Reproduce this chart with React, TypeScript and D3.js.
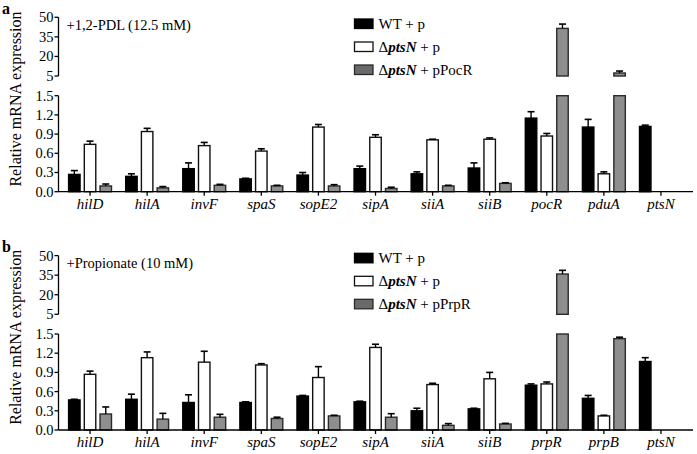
import * as d3 from "d3";

// Panel a: +1,2-PDL
const genesA = ["hilD", "hilA", "invF", "spaS", "sopE2", "sipA", "siiA", "siiB", "pocR", "pduA", "ptsN"];
const wtA = [0.27, 0.24, 0.36, 0.2, 0.26, 0.36, 0.28, 0.37, 1.15, 1.01, 1.02];
const wtErrA = [0.06, 0.04, 0.09, 0.01, 0.04, 0.04, 0.03, 0.08, 0.1, 0.12, 0.02];
const mutA = [0.74, 0.94, 0.72, 0.635, 1.01, 0.85, 0.81, 0.82, 0.87, 0.28, 0];
const mutErrA = [0.05, 0.05, 0.05, 0.035, 0.04, 0.04, 0.01, 0.02, 0.04, 0.03, 0];
const compA = [0.09, 0.06, 0.1, 0.09, 0.09, 0.05, 0.09, 0.13, 41.5, 7.3, 0];
const compErrA = [0.03, 0.02, 0.015, 0.01, 0.02, 0.02, 0.01, 0.01, 3.3, 1.5, 0];

// Panel b: +Propionate
const genesB = ["hilD", "hilA", "invF", "spaS", "sopE2", "sipA", "siiA", "siiB", "prpR", "prpB", "ptsN"];
const wtB = [0.47, 0.48, 0.43, 0.43, 0.53, 0.44, 0.3, 0.33, 0.7, 0.495, 1.07];
const wtErrB = [0.01, 0.08, 0.12, 0.01, 0.01, 0.01, 0.04, 0.01, 0.02, 0.045, 0.06];
const mutB = [0.87, 1.13, 1.06, 1.016, 0.82, 1.29, 0.71, 0.8, 0.72, 0.22, 0];
const mutErrB = [0.05, 0.09, 0.17, 0.02, 0.17, 0.05, 0.02, 0.1, 0.03, 0.01, 0];
const compB = [0.25, 0.17, 0.2, 0.18, 0.22, 0.2, 0.073, 0.094, 35.9, 1.427, 0];
const compErrB = [0.11, 0.09, 0.045, 0.02, 0.01, 0.055, 0.027, 0.01, 2.8, 0.023, 0];

const lowTicks = [0, 0.3, 0.6, 0.9, 1.2, 1.5];
const highTicks = [5, 20, 35, 50];
const seriesKeys = ["wt", "mut", "comp"];
const fills: Record<string, string> = { wt: "#000", mut: "#fff", comp: "#8e8e8e" };
const legendFills: Record<string, string> = { wt: "#000", mut: "#fff", comp: "#6a6a6a" };
const strokes: Record<string, string> = { wt: "#000", mut: "#111", comp: "#2a2a2a" };

const FONT = "'Liberation Serif', 'Times New Roman', Times, serif";

type PanelProps = {
  dy: number;
  letter: string;
  note: string;
  genes: string[];
  series: { key: string; vals: number[]; errs: number[] }[];
  compLabel: string;
  legendY: number;
};

function Panel({ dy, letter, note, genes, series, compLabel, legendY }: PanelProps) {
  const axisX = 58.5;
  const yLow = d3.scaleLinear().domain([0, 1.5]).range([191.7, 95.7]);
  const yHigh = d3.scaleLinear().domain([5, 50]).range([76, 17.3]);
  const x = d3.scaleBand<string>().domain(genes).range([61.5, 689.5]);
  const xi = d3.scaleBand<string>().domain(seriesKeys).range([-21.45, 21.45]).paddingInner(0.27);
  const bw = xi.bandwidth();
  const fmt = d3.format(".1f");

  const bars: JSX.Element[] = [];
  series.forEach((s) => {
    s.vals.forEach((v, i) => {
      if (v <= 0) return;
      const cx = (x(genes[i]) ?? 0) + x.bandwidth() / 2;
      const bx = cx + (xi(s.key) ?? 0);
      const mid = bx + bw / 2;
      const top = v + s.errs[i];
      const k = `${s.key}-${i}`;
      if (v <= 1.5) {
        bars.push(
          <rect key={k} x={bx} y={yLow(v)} width={bw} height={yLow(0) - yLow(v)}
            fill={fills[s.key]} stroke={strokes[s.key]} strokeWidth={1.4} />
        );
        const ey = yLow(Math.min(top, 1.5));
        bars.push(<line key={k + "e"} x1={mid} x2={mid} y1={yLow(v)} y2={ey} stroke="#000" strokeWidth={1.4} />);
        bars.push(<line key={k + "c"} x1={mid - 3.5} x2={mid + 3.5} y1={ey} y2={ey} stroke="#000" strokeWidth={1.6} />);
      } else {
        bars.push(
          <rect key={k} x={bx} y={yLow(1.5)} width={bw} height={yLow(0) - yLow(1.5)}
            fill={fills[s.key]} stroke={strokes[s.key]} strokeWidth={1.4} />
        );
        bars.push(
          <rect key={k + "u"} x={bx} y={yHigh(v)} width={bw} height={yHigh(5) - yHigh(v)}
            fill={fills[s.key]} stroke={strokes[s.key]} strokeWidth={1.4} />
        );
        const ey = yHigh(top);
        bars.push(<line key={k + "e"} x1={mid} x2={mid} y1={yHigh(v)} y2={ey} stroke="#000" strokeWidth={1.4} />);
        bars.push(<line key={k + "c"} x1={mid - 3.5} x2={mid + 3.5} y1={ey} y2={ey} stroke="#000" strokeWidth={1.6} />);
      }
    });
  });

  const legend = [
    { key: "wt", parts: [{ t: "WT + p" }] },
    { key: "mut", parts: [{ t: "Δ" }, { t: "ptsN", b: true }, { t: " + p" }] },
    { key: "comp", parts: [{ t: "Δ" }, { t: "ptsN", b: true }, { t: " + " + compLabel }] },
  ];

  return (
    <g transform={`translate(0,${dy})`} style={{ fontFamily: FONT }}>
      <text x={2} y={14} fontSize={16} fontWeight="bold" style={{ fontFamily: FONT }}>{letter}</text>
      <text transform={`translate(20.5,99) rotate(-90)`} textAnchor="middle" fontSize={16} style={{ fontFamily: FONT }}>
        Relative mRNA expression
      </text>
      <text x={66.5} y={30} fontSize={14.5} style={{ fontFamily: FONT }}>{note}</text>

      {/* y axis upper segment */}
      <line x1={axisX} x2={axisX} y1={yHigh(50)} y2={yHigh(5)} stroke="#000" strokeWidth={1.3} />
      {highTicks.map((t) => (
        <g key={"h" + t}>
          <line x1={axisX - 4} x2={axisX} y1={yHigh(t)} y2={yHigh(t)} stroke="#000" strokeWidth={1.3} />
          <text x={axisX - 5} y={yHigh(t)} dy="0.34em" textAnchor="end" fontSize={14.5} style={{ fontFamily: FONT }}>{t}</text>
        </g>
      ))}
      {/* y axis lower segment */}
      <line x1={axisX} x2={axisX} y1={yLow(1.5)} y2={yLow(0)} stroke="#000" strokeWidth={1.3} />
      {lowTicks.map((t) => (
        <g key={"l" + t}>
          <line x1={axisX - 4} x2={axisX} y1={yLow(t)} y2={yLow(t)} stroke="#000" strokeWidth={1.3} />
          <text x={axisX - 5} y={yLow(t)} dy="0.34em" textAnchor="end" fontSize={14.5} style={{ fontFamily: FONT }}>{fmt(t)}</text>
        </g>
      ))}

      {bars}

      {/* x axis */}
      <line x1={axisX} x2={693} y1={yLow(0)} y2={yLow(0)} stroke="#000" strokeWidth={1.3} />
      {genes.map((g) => {
        const cx = (x(g) ?? 0) + x.bandwidth() / 2;
        return (
          <g key={"x" + g}>
            <line x1={cx} x2={cx} y1={yLow(0)} y2={yLow(0) + 4} stroke="#000" strokeWidth={1.3} />
            <text x={cx} y={yLow(0) + 17} textAnchor="middle" fontSize={15} fontStyle="italic" style={{ fontFamily: FONT }}>{g}</text>
          </g>
        );
      })}

      {/* legend */}
      {legend.map((l, i) => {
        const ly = legendY + i * 23;
        return (
          <g key={"lg" + l.key}>
            <rect x={354.5} y={ly} width={18.5} height={9.5} fill={legendFills[l.key]} stroke={strokes[l.key]} strokeWidth={1.3} />
            <text x={378.5} y={ly + 9.5} fontSize={15} style={{ fontFamily: FONT }}>
              {l.parts.map((p, j) => (
                <tspan key={j} fontWeight={p.b ? "bold" : "normal"} fontStyle={p.b ? "italic" : "normal"}>{p.t}</tspan>
              ))}
            </text>
          </g>
        );
      })}
    </g>
  );
}

export default function App() {
  return (
    <div style={{ position: "absolute", left: 0, top: 0 }}>
      <svg width={697} height={454} viewBox="0 0 697 454" style={{ display: "block", background: "#fff", fontFamily: FONT }}>
        <Panel
          dy={0}
          letter="a"
          note="+1,2-PDL (12.5 mM)"
          genes={genesA}
          series={[
            { key: "wt", vals: wtA, errs: wtErrA },
            { key: "mut", vals: mutA, errs: mutErrA },
            { key: "comp", vals: compA, errs: compErrA },
          ]}
          compLabel="pPocR"
          legendY={19}
        />
        <Panel
          dy={238.3}
          letter="b"
          note="+Propionate (10 mM)"
          genes={genesB}
          series={[
            { key: "wt", vals: wtB, errs: wtErrB },
            { key: "mut", vals: mutB, errs: mutErrB },
            { key: "comp", vals: compB, errs: compErrB },
          ]}
          compLabel="pPrpR"
          legendY={15}
        />
      </svg>
    </div>
  );
}
